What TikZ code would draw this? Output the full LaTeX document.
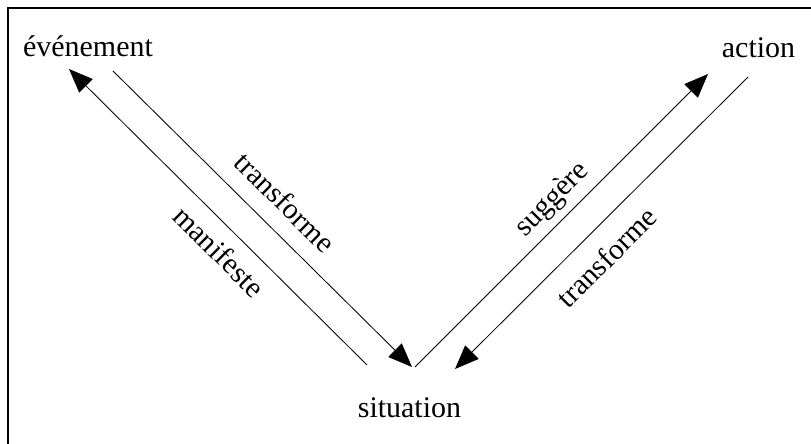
\documentclass[tikz,border=0pt]{standalone}
\usepackage{fontspec}
\setmainfont{Liberation Serif}
\usetikzlibrary{arrows.meta}

\begin{document}
\begin{tikzpicture}[x=0.025cm, y=-0.025cm,
word/.style={inner sep=0pt, anchor=base, font=\fontsize{21.3}{26}\selectfont},
link/.style={-{Triangle[length=17pt, width=13.5pt]}, line width=0.6pt},
verb/.style={sloped, inner sep=0pt, font=\fontsize{21}{25}\selectfont},
]
\useasboundingbox (0,0) rectangle (811,444);
\draw[line width=1.2pt] (8,444) -- (8,8) -- (811,8);

\node[word] at (88,57) (event) {événement};
\node[word] at (758.5,58) (action) {action};
\node[word] at (409.5,418) (situation) {situation};

% evenement <-> situation
\draw[link] ([shift={(-42.5,-53)}]situation.base) -- node[verb, pos=0.44, below=9pt] {manifeste} ([shift={(-19,12)}]event.base);
\draw[link] ([shift={(25,14)}]event.base) -- node[verb, pos=0.51, above=12pt] {transforme} ([shift={(2.5,-51)}]situation.base);
% situation <-> action
\draw[link] ([shift={(5.5,-51)}]situation.base) -- node[verb, pos=0.52, above=5pt] {suggère} ([shift={(-50.5,16)}]action.base);
\draw[link] ([shift={(-10.5,19)}]action.base) -- node[verb, pos=0.55, below=12pt] {transforme} ([shift={(45.5,-49)}]situation.base);
\end{tikzpicture}
\end{document}
